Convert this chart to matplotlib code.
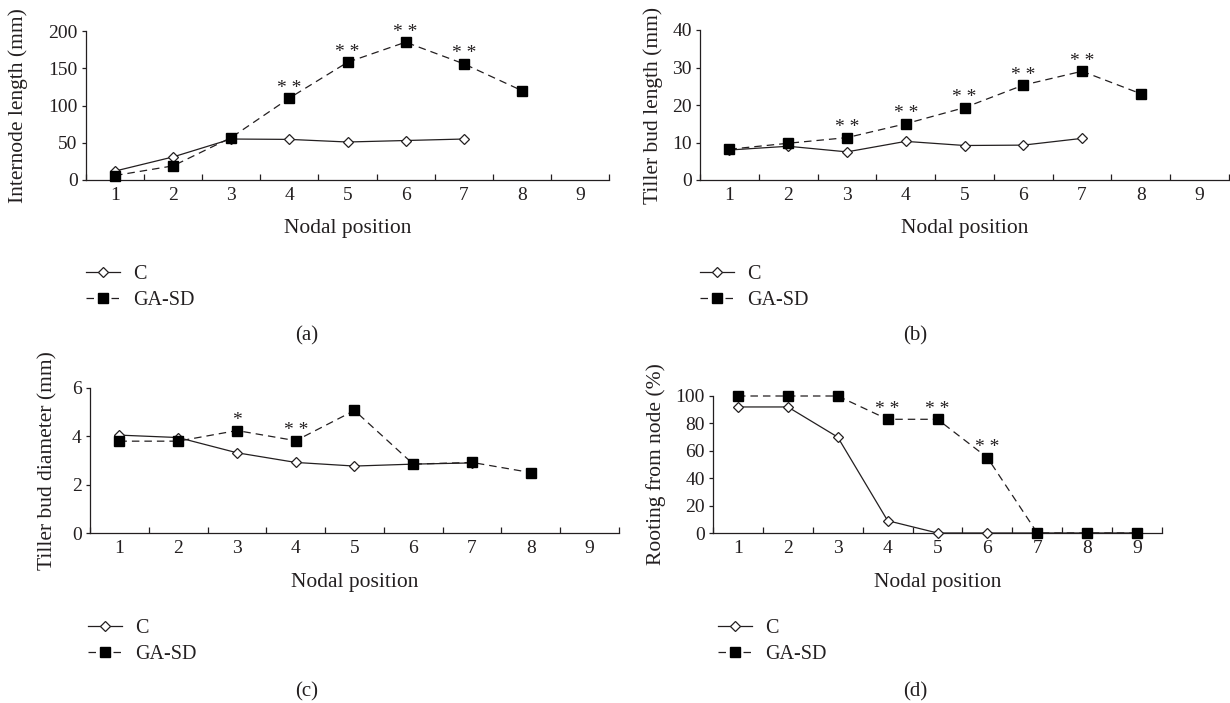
import numpy as np
import matplotlib
matplotlib.use('Agg')
import matplotlib.pyplot as plt
from matplotlib.ticker import FixedLocator

plt.rcParams['font.family'] = ['Liberation Serif', 'DejaVu Serif']
plt.rcParams['font.size'] = 15

nodes = [1, 2, 3, 4, 5, 6, 7, 8, 9]

# (a) internode length
a_c = [12, 31, 55, 54.5, 51, 53, 55]
a_ga = [6, 19, 57, 110, 158, 185, 156, 120]
a_stars = {4: '* *', 5: '* *', 6: '* *', 7: '* *'}

# (b) tiller bud length
b_c = [8.0, 9.0, 7.5, 10.3, 9.2, 9.3, 11.1]
b_ga = [8.2, 9.8, 11.3, 15.0, 19.3, 25.3, 29.0, 23.0]
b_stars = {3: '* *', 4: '* *', 5: '* *', 6: '* *', 7: '* *'}

# (c) tiller bud diameter
c_c = [4.05, 3.95, 3.32, 2.92, 2.77, 2.85, 2.9]
c_ga = [3.8, 3.8, 4.24, 3.82, 5.07, 2.85, 2.92, 2.5]
c_stars = {3: '*', 4: '* *'}

# (d) rooting from node
d_c = [92, 92, 70, 9, 0, 0, 0, 0, 0]
d_ga = [100, 100, 100, 83, 83, 55, 0, 0, 0]
d_stars = {4: '* *', 5: '* *', 6: '* *'}

W, H = 1230, 703
ink = '#231f20'
fig = plt.figure(figsize=(W / 100, H / 100), dpi=100)


def px_axes(left, right, top, bottom):
    return fig.add_axes([left / W, 1 - bottom / H, (right - left) / W, (bottom - top) / H])


def panel(box, c, ga, stars, ymax, ystep, ylabel, ylab_x, letter, letter_xy, xlab_y, leg_xy):
    ax = px_axes(*box)
    ax.plot(nodes[:len(c)], c, color=ink, lw=0.9, marker='D', ms=5.5,
            mfc='white', mec=ink, mew=0.9, label='C', zorder=3)
    ax.plot(nodes[:len(ga)], ga, color=ink, lw=0.9, ls=(0, (6, 4)), marker='s', ms=7,
            mfc='black', mec='black', label='GA-SD', zorder=4)
    for x, s in stars.items():
        ax.annotate(s, (x, ga[x - 1]), xytext=(0, 1), textcoords='offset points',
                    ha='center', va='bottom', fontsize=14, color=ink)
    ax.set_xlim(0.5, 9.5)
    ax.set_ylim(0, ymax)
    ax.set_yticks(np.arange(0, ymax + 1, ystep))
    ax.set_xticks(nodes)
    ax.xaxis.set_minor_locator(FixedLocator(np.arange(0.5, 10, 1)))
    ax.tick_params(axis='x', which='major', length=0, pad=5, labelsize=14, colors=ink)
    ax.tick_params(axis='x', which='minor', direction='in', length=4, width=0.9, color=ink)
    ax.tick_params(axis='y', direction='out', length=3, width=0.9, pad=3, labelsize=14, colors=ink)
    for s in ['top', 'right']:
        ax.spines[s].set_visible(False)
    for s in ['left', 'bottom']:
        ax.spines[s].set_linewidth(0.9)
        ax.spines[s].set_color(ink)
    for ln in ax.lines:
        ln.set_clip_on(False)
    xc = (box[0] + box[1]) / 2
    fig.text(xc / W, 1 - xlab_y / H, 'Nodal position', ha='center', va='center',
             fontsize=15.5, color=ink)
    fig.text(ylab_x / W, 1 - (box[2] + box[3]) / 2 / H, ylabel, rotation=90,
             ha='center', va='center', fontsize=15.5, color=ink)
    fig.text(letter_xy[0] / W, 1 - letter_xy[1] / H, letter, ha='center', va='center',
             fontsize=15, color=ink)
    ax.legend(loc='upper left', bbox_to_anchor=(leg_xy[0] / W, 1 - leg_xy[1] / H),
              bbox_transform=fig.transFigure, frameon=False, borderpad=0, borderaxespad=0,
              handlelength=1.7, handletextpad=0.65, labelspacing=0.35, fontsize=14.5,
              labelcolor=ink)
    return ax


panel((86, 609, 31, 180), a_c, a_ga, a_stars, 200, 50, 'Internode length (mm)', 18,
      '(a)', (307, 336), 228, (86, 265))
panel((700, 1229, 30, 180), b_c, b_ga, b_stars, 40, 10, 'Tiller bud length (mm)', 653,
      '(b)', (915, 336), 228, (700, 265))
panel((90, 619, 388, 533), c_c, c_ga, c_stars, 6, 2, 'Tiller bud diameter (mm)', 48,
      '(c)', (307, 692), 582, (88, 619))
panel((713, 1162, 396, 533), d_c, d_ga, d_stars, 100, 20, 'Rooting from node (%)', 656,
      '(d)', (915, 692), 582, (718, 619))

fig.savefig('out.png', dpi=100)
